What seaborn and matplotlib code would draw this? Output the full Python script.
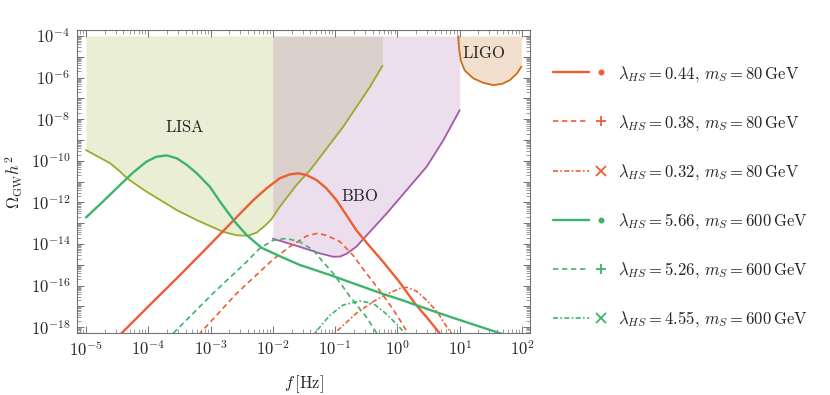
import numpy as np
import matplotlib
matplotlib.use("Agg")
import matplotlib.pyplot as plt
import seaborn as sns
from matplotlib.lines import Line2D
from matplotlib.legend_handler import HandlerBase
from matplotlib.ticker import FixedLocator, FuncFormatter, NullFormatter

# all values are log10 (f / Hz) and log10 (Omega h^2)
lisa_logf = [-5.0, -4.61, -4.45, -4.34, -4.07, -3.81, -3.54, -3.22, -2.80, -2.58, -2.40, -2.26, -2.12, -2.02, -1.89, -1.62, -1.40, -0.87, -0.44, -0.24]
lisa_logo = [-9.48, -10.12, -10.52, -10.84, -11.40, -11.88, -12.37, -12.85, -13.41, -13.58, -13.60, -13.45, -13.10, -12.80, -12.21, -11.16, -10.44, -8.36, -6.44, -5.43]

bbo_logf = [-2.0, -1.57, -1.24, -1.03, -0.92, -0.82, -0.66, -0.49, -0.17, 0.15, 0.47, 0.74, 1.0]
bbo_logo = [-13.74, -14.13, -14.45, -14.61, -14.60, -14.47, -14.13, -13.57, -12.52, -11.40, -10.28, -9.0, -7.56]

ligo_logf = [0.976, 0.99, 1.02, 1.08, 1.217, 1.38, 1.538, 1.68, 1.806, 1.92, 1.99]
ligo_logo = [-4.0, -4.6, -5.2, -5.65, -6.03, -6.25, -6.36, -6.30, -6.12, -5.80, -5.47]

# lambda_HS = 0.44 / 0.38 / 0.32, m_S = 80 GeV
s1_logf = [-4.6, -4.0, -3.49, -3.0, -2.53, -2.31, -2.10, -1.89, -1.73, -1.59, -1.46, -1.30, -1.14, -0.98, -0.82, -0.66, -0.49, -0.23, 0.04, 0.28, 0.48, 0.68, 0.85]
s1_logo = [-18.8, -17.0, -15.49, -14.0, -12.55, -11.88, -11.32, -10.84, -10.65, -10.60, -10.68, -10.92, -11.32, -11.88, -12.60, -13.33, -13.95, -14.85, -15.85, -16.85, -17.55, -18.29, -19.0]
s2_logf = [-3.40, -3.17, -2.58, -1.99, -1.73, -1.46, -1.30, -1.14, -0.92, -0.71, -0.55, -0.23, 0.0, 0.17, 0.3]
s2_logo = [-18.98, -18.29, -16.37, -14.72, -14.13, -13.62, -13.49, -13.57, -13.89, -14.55, -15.20, -16.45, -17.45, -18.29, -18.9]
s3_logf = [-1.2, -0.98, -0.66, -0.39, -0.20, 0.04, 0.15, 0.30, 0.47, 0.65, 0.79, 0.87, 1.0]
s3_logo = [-19.0, -18.21, -17.33, -16.77, -16.45, -16.13, -16.08, -16.25, -16.70, -17.30, -17.97, -18.29, -18.9]

# lambda_HS = 5.66 / 5.26 / 4.55, m_S = 600 GeV
g1_logf = [-5.0, -4.75, -4.45, -4.24, -4.03, -3.87, -3.70, -3.54, -3.38, -3.22, -3.01, -2.85, -2.61, -2.42, -2.18, -1.89, -1.57, -1.08, -0.23, 0.04, 0.68, 1.0, 1.65, 2.2]
g1_logo = [-12.72, -12.02, -11.15, -10.55, -10.04, -9.80, -9.74, -9.88, -10.20, -10.60, -11.25, -11.95, -12.93, -13.57, -14.18, -14.58, -15.0, -15.49, -16.40, -16.66, -17.33, -17.65, -18.29, -18.8]
g2_logf = [-3.8, -3.60, -2.96, -2.42, -2.21, -1.99, -1.78, -1.57, -1.35, -1.22, -1.03, -0.76, -0.50, -0.33, -0.2]
g2_logo = [-18.9, -18.29, -16.37, -14.85, -14.20, -13.81, -13.73, -13.89, -14.29, -14.77, -15.41, -16.53, -17.50, -18.29, -18.8]
g3_logf = [-1.5, -1.33, -1.08, -0.87, -0.60, -0.39, -0.20, 0.0, 0.12, 0.25]
g3_logo = [-19.0, -18.29, -17.41, -16.93, -16.74, -16.85, -17.30, -17.88, -18.29, -18.9]

labels = [
    r"$\lambda_{HS} = 0.44,\, m_S = 80\,\mathrm{GeV}$",
    r"$\lambda_{HS} = 0.38,\, m_S = 80\,\mathrm{GeV}$",
    r"$\lambda_{HS} = 0.32,\, m_S = 80\,\mathrm{GeV}$",
    r"$\lambda_{HS} = 5.66,\, m_S = 600\,\mathrm{GeV}$",
    r"$\lambda_{HS} = 5.26,\, m_S = 600\,\mathrm{GeV}$",
    r"$\lambda_{HS} = 4.55,\, m_S = 600\,\mathrm{GeV}$",
]
x_ticks = [-5, -4, -3, -2, -1, 0, 1, 2]
y_ticks = list(range(-18, -3))

ORANGE = "#ef5d32"
GREEN = "#3db46c"
LISA_C = "#9aab2c"
BBO_C = "#a35aa8"
LIGO_C = "#c8701e"
DASH = (0, (3.2, 2.2))
DASHDOT = (0, (3.0, 1.4, 1.0, 1.4))

sns.set_style("ticks")
plt.rcParams["mathtext.fontset"] = "cm"
plt.rcParams["font.family"] = ["DejaVu Serif"]


class LineThenMarker(HandlerBase):
    def create_artists(self, legend, orig_handle, xdescent, ydescent, width, height, fontsize, trans):
        y = height / 2 - ydescent
        x0 = -xdescent
        seg = Line2D([x0, x0 + 0.74 * width], [y, y])
        seg.update_from(orig_handle)
        seg.set_marker("None")
        mk = Line2D([x0 + width], [y])
        mk.update_from(orig_handle)
        mk.set_linestyle("None")
        seg.set_transform(trans)
        mk.set_transform(trans)
        return [seg, mk]


def p10(v):
    return np.power(10.0, np.asarray(v, dtype=float))


fig = plt.figure(figsize=(8.3, 3.95), dpi=100)
ax = fig.add_axes([0.0931, 0.1562, 0.5455, 0.7678])
ax.set_xscale("log")
ax.set_yscale("log")

# sensitivity regions
for lf, lo, c, a in [(lisa_logf, lisa_logo, LISA_C, 0.2), (bbo_logf, bbo_logo, BBO_C, 0.2), (ligo_logf, ligo_logo, LIGO_C, 0.22)]:
    ax.fill_between(p10(lf), p10(lo), 1e-4, color=c, alpha=a, lw=0)
    sns.lineplot(x=p10(lf), y=p10(lo), ax=ax, color=c, lw=1.3, estimator=None, sort=False)

curves = [
    (s1_logf, s1_logo, ORANGE, "-", 1.7, "."),
    (s2_logf, s2_logo, ORANGE, DASH, 1.2, "+"),
    (s3_logf, s3_logo, ORANGE, DASHDOT, 1.2, "x"),
    (g1_logf, g1_logo, GREEN, "-", 1.7, "."),
    (g2_logf, g2_logo, GREEN, DASH, 1.2, "+"),
    (g3_logf, g3_logo, GREEN, DASHDOT, 1.2, "x"),
]
handles = []
for lf, lo, c, ls, lw, m in curves:
    sns.lineplot(x=p10(lf), y=p10(lo), ax=ax, color=c, linestyle=ls, lw=lw, estimator=None, sort=False)
    handles.append(Line2D([], [], color=c, linestyle=ls, lw=lw, marker=m,
                          markersize=6 if m == "." else 7.5, markeredgewidth=1.3))

ax.text(10 ** -3.41, 10 ** -8.42, r"$\mathrm{LISA}$", fontsize=12, ha="center", va="center")
ax.text(10 ** -0.60, 10 ** -11.73, r"$\mathrm{BBO}$", fontsize=12, ha="center", va="center")
ax.text(10 ** 1.38, 10 ** -4.83, r"$\mathrm{LIGO}$", fontsize=12, ha="center", va="center")

ax.set_xlim(10 ** -5.14, 10 ** 2.13)
ax.set_ylim(10 ** -18.29, 10 ** -3.71)
ax.xaxis.set_major_locator(FixedLocator(p10(x_ticks)))
ax.xaxis.set_minor_locator(FixedLocator([k * 10.0 ** e for e in range(-6, 2) for k in range(2, 10)]))
ax.yaxis.set_major_locator(FixedLocator(p10(y_ticks)))
ax.yaxis.set_minor_locator(FixedLocator([k * 10.0 ** e for e in range(-19, -4) for k in range(2, 10)]))
ax.xaxis.set_major_formatter(FuncFormatter(lambda v, p: r"$10^{%d}$" % round(np.log10(v))))
ax.yaxis.set_major_formatter(FuncFormatter(
    lambda v, p: r"$10^{%d}$" % round(np.log10(v)) if round(np.log10(v)) % 2 == 0 else ""))
ax.xaxis.set_minor_formatter(NullFormatter())
ax.yaxis.set_minor_formatter(NullFormatter())
ax.tick_params(which="both", direction="in", top=True, right=True, color="0.45", labelsize=12, pad=5)
ax.tick_params(which="major", length=5, width=0.7)
ax.tick_params(which="minor", length=2.8, width=0.5)
for s in ax.spines.values():
    s.set_color("0.45")
    s.set_linewidth(0.8)

ax.set_xlabel(r"$f\,[\mathrm{Hz}]$", fontsize=12, labelpad=10)
ax.set_ylabel(r"$\Omega_{\rm GW}h^2$", fontsize=12, labelpad=4)

fig.legend(handles, labels, handler_map={Line2D: LineThenMarker()}, loc="center left",
           bbox_to_anchor=(0.656, 0.5025), frameon=False, fontsize=12, borderpad=0,
           handlelength=2.9, handletextpad=1.0, labelspacing=1.75)

fig.savefig("out.png", dpi=100)
